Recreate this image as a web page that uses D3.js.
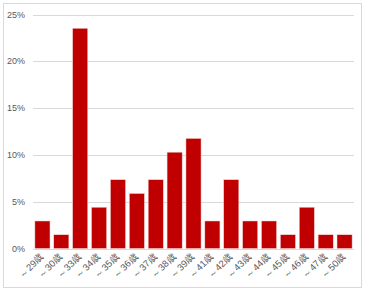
<!DOCTYPE html>
<meta charset="utf-8">
<style>
body { margin: 0; background: #fff; }
svg text { font-family: "Liberation Sans", Arial, sans-serif; fill: #595959; }
.grid line { stroke: #d9d9d9; stroke-width: 1px; }
</style>
<body>
<script src="https://d3js.org/d3.v7.min.js" charset="utf-8"></script>
<script>

var categories = ["～29歳", "～30歳", "～33歳", "～34歳", "～35歳", "～36歳", "～37歳", "～38歳",
                  "～39歳", "～41歳", "～42歳", "～43歳", "～44歳", "～45歳", "～46歳", "～47歳", "～50歳"];
var shares = [0.0294, 0.0147, 0.2353, 0.0441, 0.0735, 0.0588, 0.0735, 0.1029,
              0.1176, 0.0294, 0.0735, 0.0294, 0.0294, 0.0147, 0.0441, 0.0147, 0.0147];
var yTicks = [0, 0.05, 0.10, 0.15, 0.20, 0.25];

var width = 370,
    height = 292;

var svg = d3.select("body").append("svg")
    .attr("width", width)
    .attr("height", height);

// chart area frame
svg.append("rect")
    .attr("x", 3.5).attr("y", 3.5)
    .attr("width", 358).attr("height", 284)
    .attr("fill", "#fff")
    .attr("stroke", "#d9d9d9");

var x = d3.scaleBand()
    .domain(categories)
    .range([33, 354])
    .paddingInner(0.2)
    .paddingOuter(0.1);

var y = d3.scaleLinear()
    .domain([0, 0.25])
    .range([248.5, 14.5]);

svg.append("g")
    .attr("class", "grid")
  .selectAll("line")
    .data(yTicks)
  .enter()
    .append("line")
    .attr("x1", 33).attr("x2", 354)
    .attr("y1", d => Math.round(y(d)) + 0.5)
    .attr("y2", d => Math.round(y(d)) + 0.5);

svg.append("g")
  .selectAll("text")
    .data(yTicks)
  .enter()
    .append("text")
    .attr("x", 25)
    .attr("y", d => y(d) + 3)
    .attr("text-anchor", "end")
    .style("font-size", "9px")
    .text(d => d3.format(".0%")(d));

svg.append("g")
  .selectAll("rect")
    .data(shares)
  .enter()
    .append("rect")
    .attr("x", (d, i) => x(categories[i]))
    .attr("width", x.bandwidth())
    .attr("y", d => y(d))
    .attr("height", d => y(0) - y(d))
    .attr("fill", "#c00000")
    .attr("stroke", "#f4d6d6")
    .attr("stroke-width", 0.5);

// rotated category labels, end of text sits under the bar centre
svg.append("g")
  .selectAll("text")
    .data(categories)
  .enter()
    .append("text")
    .attr("transform", d => `translate(${x(d) + x.bandwidth() / 2 + 2},${257}) rotate(-45)`)
    .attr("text-anchor", "end")
    .style("font-size", "9.5px")
    .text(d => d);

</script>
